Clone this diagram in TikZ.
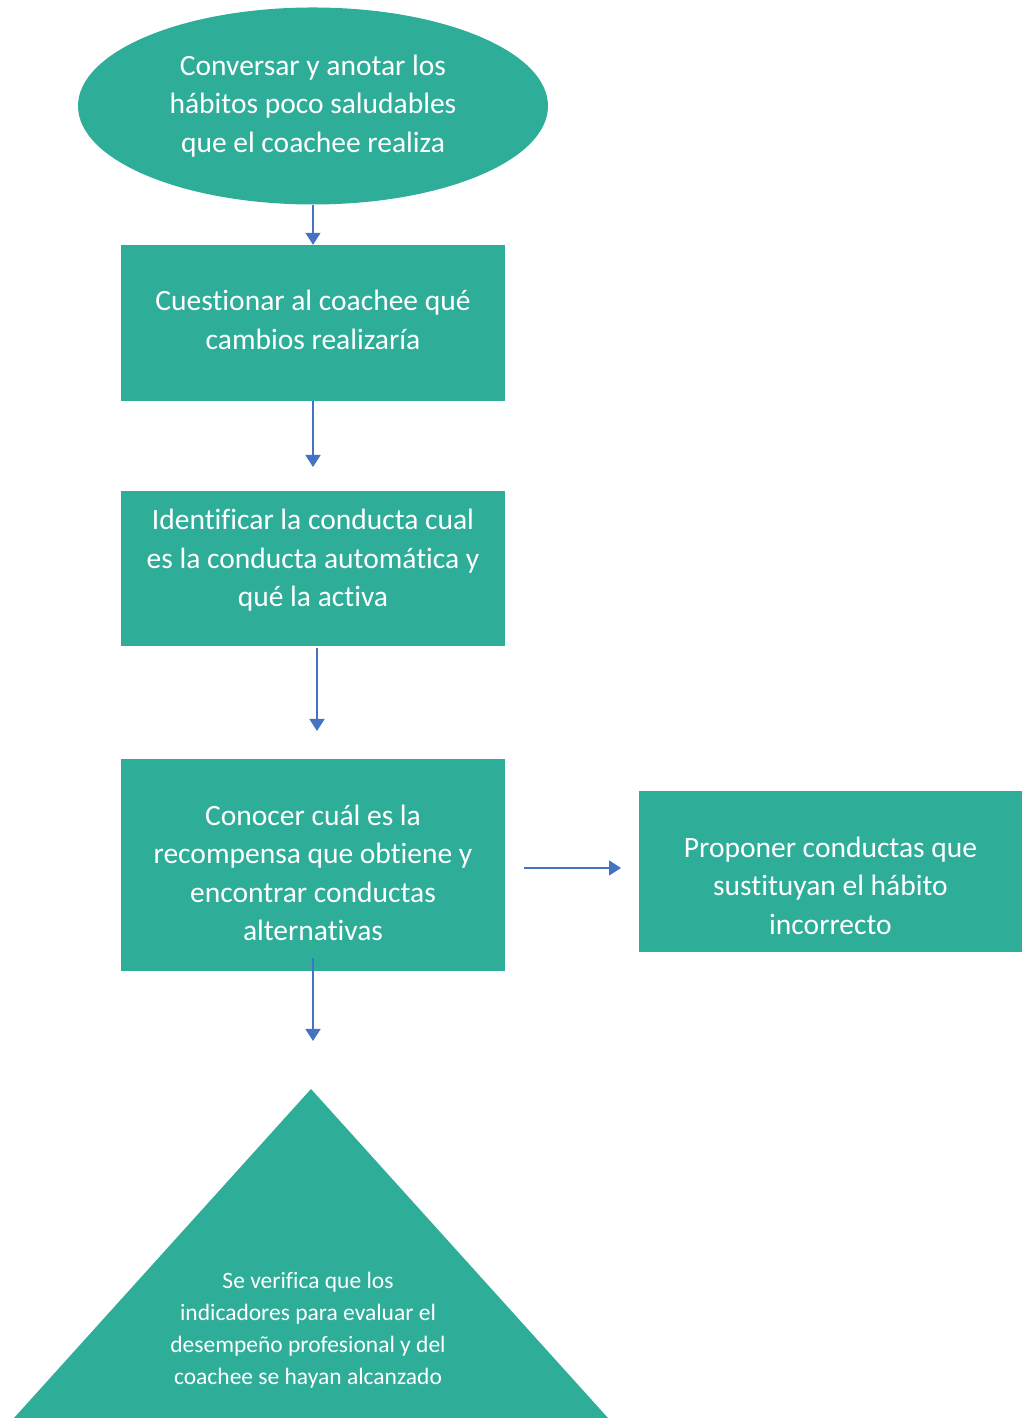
\documentclass[tikz,border=0pt]{standalone}
\usepackage{fontspec}
\setmainfont{Carlito}[Ligatures=NoCommon]
\usetikzlibrary{shapes.geometric,arrows.meta}
\definecolor{tealfill}{RGB}{46,173,153}
\definecolor{arrowblue}{RGB}{68,114,196}
\begin{document}
\begin{tikzpicture}[>={Triangle[width=15bp,length=12bp]},line join=bevel,
  stepbox/.style={fill=tealfill,inner sep=0bp},
  steptext/.style={text=white,align=center,inner sep=0bp,
    font=\fontsize{29.5bp}{38.5bp}\selectfont},
  flow/.style={->,draw=arrowblue,line width=1.5bp}]
  \useasboundingbox (0bp,0bp) rectangle (1022bp,1418bp);
%%
  % Node: habitos
  \node[stepbox,ellipse,minimum width=470bp,minimum height=197bp,
    label={[steptext]center:Conversar y anotar los\\hábitos poco saludables\\que el coachee realiza}]
    (habitos) at (313bp,1312bp) {};
  % Node: cambios
  \node[stepbox,minimum width=384bp,minimum height=156bp,
    label={[steptext,yshift=3bp]center:Cuestionar al coachee qué\\cambios realizaría}]
    (cambios) at (313bp,1095bp) {};
  % Node: conducta
  \node[stepbox,minimum width=384bp,minimum height=155bp,
    label={[steptext,yshift=8bp]center:Identificar la conducta cual\\es la conducta automática y\\qué la activa}]
    (conducta) at (313bp,849.5bp) {};
  % Node: recompensa
  \node[stepbox,minimum width=384bp,minimum height=212bp,
    label={[steptext,yshift=-8bp]center:Conocer cuál es la\\recompensa que obtiene y\\encontrar conductas\\alternativas}]
    (recompensa) at (313bp,553bp) {};
  % Node: proponer
  \node[stepbox,minimum width=383bp,minimum height=161bp,
    label={[steptext,yshift=-14bp]center:Proponer conductas que\\sustituyan el hábito\\incorrecto}]
    (proponer) at (830.5bp,546.5bp) {};
  % Node: verifica
  \fill[tealfill] (14bp,0bp) -- (311bp,329bp) -- (608bp,0bp) -- cycle;
  \node[steptext,font=\fontsize{23.5bp}{32bp}\selectfont] (verifica) at (308bp,87.5bp)
    {Se verifica que los\\indicadores para evaluar el\\desempeño profesional y del\\coachee se hayan alcanzado};
%%
  \coordinate (e2) at (313bp,951bp);
  \coordinate (s3) at (317bp,770bp);
  \coordinate (e3) at (317bp,687bp);
  \coordinate (s4) at (313bp,460bp);
  \coordinate (e4) at (313bp,377bp);
  \coordinate (s5) at (524bp,550bp);
  \coordinate (e5) at (621bp,550bp);
  % Edge: habitos -> cambios
  \draw[flow] (habitos.south) -- (cambios.north);
  % Edge: cambios -> conducta
  \draw[flow] (cambios.south) -- (e2);
  % Edge: conducta -> recompensa
  \draw[flow] (s3) -- (e3);
  % Edge: recompensa -> verifica
  \draw[flow] (s4) -- (e4);
  % Edge: recompensa -> proponer
  \draw[flow] (s5) -- (e5);
%
\end{tikzpicture}
\end{document}
